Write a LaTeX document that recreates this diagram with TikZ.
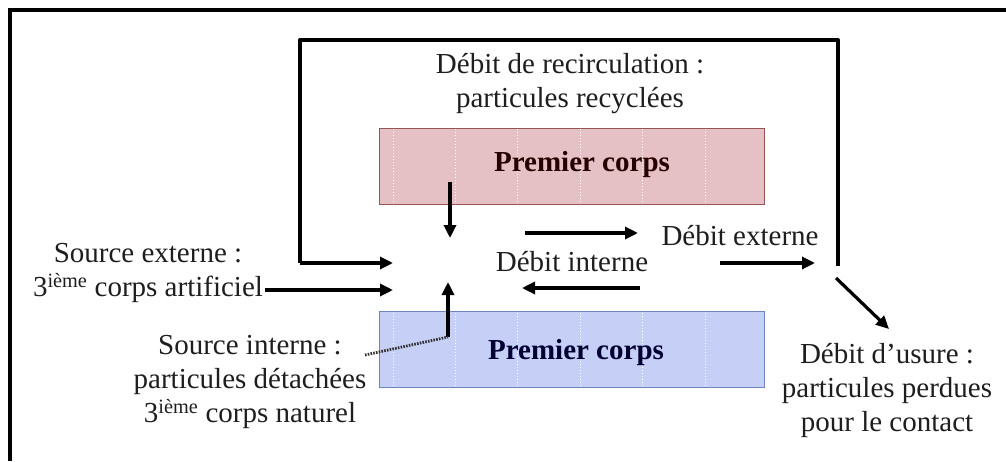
\documentclass[tikz,border=0pt]{standalone}
\usepackage{fontspec}
\setmainfont{Liberation Serif}
\usepackage{xcolor}
\usetikzlibrary{arrows.meta,positioning,calc}
\definecolor{corpsrose}{RGB}{229, 192, 196}
\definecolor{corpsroseline}{RGB}{150, 84, 84}
\definecolor{corpsbleu}{RGB}{198, 208, 246}
\definecolor{corpsbleuline}{RGB}{112, 132, 192}
\definecolor{inktext}{RGB}{30, 30, 30}

\begin{document}
\begin{tikzpicture}[
    x=1pt, y=-1pt,
    >={Triangle[length=13pt,width=12pt]},
    every node/.style={font=\fontsize{29}{34}\selectfont, text=inktext, inner sep=0pt},
    label/.style={align=center},
    corpsblock/.style={draw=#1line, line width=1pt, fill=#1, minimum width=385pt, minimum height=76pt, font=\fontsize{29}{34}\selectfont\bfseries},
    flux/.style={->, line width=3.2pt, black},
    boucle/.style={line width=4pt, black, line join=round},
    pointille/.style={line width=2.8pt, dash pattern=on 1.6pt off 1.2pt, black!80}
]
\useasboundingbox (0,0) rectangle (1006,461);

% Cadre
\draw[line width=3.5pt] (10,461) -- (10,10) -- (1006,10);

% ==================== PREMIERS CORPS ====================
\node[corpsblock=corpsrose] (corpsA) at (572,166.5) {};
\node[corpsblock=corpsbleu] (corpsB) at (572,349.5) {};
\foreach \xx in {393,455,517,580,642,705} {
  \draw[white, dotted, line width=1pt] (\xx,129) -- (\xx,204);
  \draw[white, dotted, line width=1pt] (\xx,313) -- (\xx,386);
}
\node[font=\fontsize{29}{34}\selectfont\bfseries, text=black!85!red] (txtA) at (582,165) {Premier corps};
\node[font=\fontsize{29}{34}\selectfont\bfseries, text=black!80!blue] (txtB) at (576,353) {Premier corps};

% ==================== TEXTES ====================
\node[label] (recirc) at (570,84) {Débit de recirculation :\\particules recyclées};
\node[label] (externe) at (740,236) {Débit externe};
\node[label] (interne) at (572,262) {Débit interne};
\node[label] (srcext) at (148,273) {Source externe :\\3\textsuperscript{ième} corps artificiel};
\node[label] (srcint) at (250,382) {Source interne :\\particules détachées\\3\textsuperscript{ième} corps naturel};
\node[label] (usure) at (887,390) {Débit d’usure :\\particules perdues\\pour le contact};

% ==================== POINTS ====================
\coordinate (hautA) at (450,182);
\coordinate (basA) at (450,238);
\coordinate (piedB) at (448,337);
\coordinate (teteB) at (448,282);
\coordinate (finext) at (393,290);
\coordinate (finboucle) at (393,263);
\coordinate (sortie) at (838,266);

% ==================== FLUX ====================
% Recirculation
\draw[boucle] (sortie) -- (838,40) -- (300,40) -- (300,263);
\draw[flux] (300,263) -- (finboucle);

% Source externe
\draw[flux] (srcext.east |- finext) ++(2,0) -- (finext);

% Premier corps vers le contact
\draw[flux] (hautA) -- (basA);
\draw[flux] (piedB) -- (teteB);
\draw[pointille] (365,355) -- (piedB);

% Debits interne et externe
\draw[flux] (525,233) -- (638,233);
\draw[flux] (640,288) -- (522,288);
\draw[flux] (720,263) -- (815,263);

% Usure
\draw[flux] (836,278) -- (889,329);

\end{tikzpicture}
\end{document}
